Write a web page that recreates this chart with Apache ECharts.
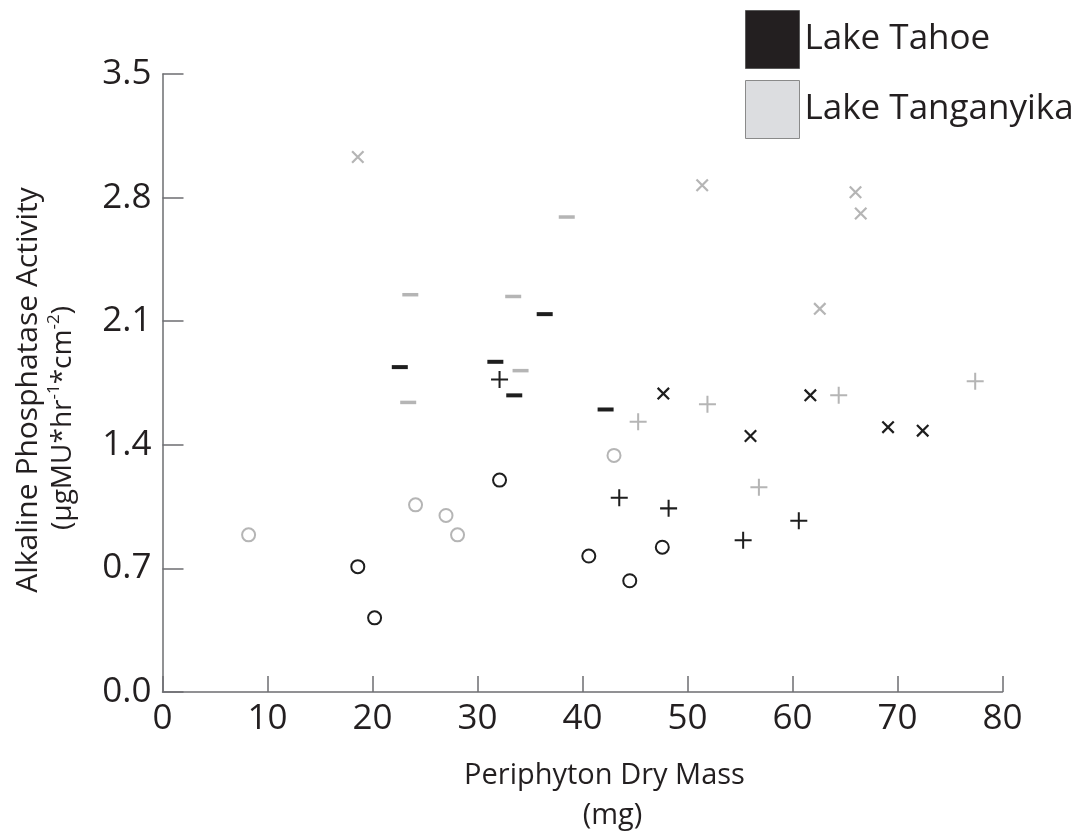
<!DOCTYPE html>
<html>
<head>
<meta charset="utf-8">
<title>Alkaline Phosphatase Activity vs Periphyton Dry Mass</title>
<script src="https://cdn.jsdelivr.net/npm/echarts@6/dist/echarts.min.js"></script>
<style>
  html, body { margin: 0; padding: 0; background: #ffffff; }
  #chart { width: 1080px; height: 831px; }
</style>
</head>
<body>
<div id="chart"></div>
<script>
// Axis ranges and ticks
const xMin = 0, xMax = 80, xStep = 10;
const yMin = 0, yMax = 3.5, yStep = 0.7;

// Lake Tahoe samples: [dry mass (mg), activity]
const tahoeCircle = [[18.6, 0.71], [20.2, 0.42], [32.1, 1.20], [40.6, 0.77], [44.5, 0.63], [47.6, 0.82]];
const tahoeDash   = [[22.6, 1.84], [31.7, 1.87], [33.5, 1.68], [36.4, 2.14], [42.2, 1.60]];
const tahoePlus   = [[32.1, 1.77], [43.5, 1.10], [48.2, 1.04], [55.3, 0.86], [60.6, 0.97]];
const tahoeCross  = [[47.7, 1.69], [56.0, 1.45], [61.7, 1.68], [69.1, 1.50], [72.4, 1.48]];

// Lake Tanganyika samples: [dry mass (mg), activity]
const tangCircle = [[8.2, 0.89], [24.1, 1.06], [27.0, 1.00], [28.1, 0.89], [43.0, 1.34]];
const tangDash   = [[23.4, 1.64], [23.6, 2.25], [33.4, 2.24], [34.1, 1.82], [38.5, 2.69]];
const tangPlus   = [[45.3, 1.53], [51.9, 1.63], [56.8, 1.16], [64.4, 1.68], [77.4, 1.76]];
const tangCross  = [[18.6, 3.03], [51.4, 2.87], [62.6, 2.17], [66.0, 2.83], [66.5, 2.71]];

const lakeNames = ['Lake Tahoe', 'Lake Tanganyika'];

const FONT = '"Open Sans", "Noto Sans", sans-serif';
const TEXT = '#231f20';
const AXIS = '#6d6e71';
const DARK = '#1e1e1e';
const LIGHT = '#b5b5b5';

// Filled outlines for the "+" and "x" markers
const PLUS_PATH = 'path://M0,7.05H16V8.95H0Z M7.05,0H8.95V16H7.05Z';
const CROSS_PATH = 'path://M0,1.45L1.45,0L12,10.55L10.55,12Z M10.55,0L12,1.45L1.45,12L0,10.55Z';

function circleSeries(name, data, color) {
  return {
    type: 'scatter', name, data,
    symbol: 'circle', symbolSize: 13,
    itemStyle: { color: 'rgba(255,255,255,0)', borderColor: color, borderWidth: 2, opacity: 1 },
    emphasis: { disabled: true }
  };
}
function dashSeries(name, data, color, h) {
  return {
    type: 'scatter', name, data,
    symbol: 'rect', symbolSize: [16, h],
    itemStyle: { color, opacity: 1 },
    emphasis: { disabled: true }
  };
}
function pathSeries(name, data, color, symbol, size) {
  return {
    type: 'scatter', name, data,
    symbol, symbolSize: size,
    itemStyle: { color, opacity: 1 },
    emphasis: { disabled: true }
  };
}

const chart = echarts.init(document.getElementById('chart'), null, { renderer: 'canvas' });

chart.setOption({
  animation: false,
  backgroundColor: '#ffffff',
  textStyle: { fontFamily: FONT, color: TEXT },
  grid: {
    left: 162.5, right: 77.5, top: 74, bottom: 139,
    containLabel: false,
    outerBoundsMode: 'none'
  },
  legend: {
    orient: 'vertical',
    left: 745, top: 10,
    padding: 0,
    itemWidth: 54, itemHeight: 58, itemGap: 11,
    selectedMode: false,
    textStyle: { fontFamily: FONT, fontSize: 35, color: TEXT },
    data: [
      { name: lakeNames[0], icon: 'rect', itemStyle: { color: '#231f20', borderColor: '#5a5a5a', borderWidth: 1 } },
      { name: lakeNames[1], icon: 'rect', itemStyle: { color: '#dcdde0', borderColor: '#8a8a8a', borderWidth: 1 } }
    ]
  },
  xAxis: {
    type: 'value',
    min: xMin, max: xMax, interval: xStep,
    name: 'Periphyton Dry Mass\n{pad|\u00a0}(mg)',
    nameLocation: 'middle',
    nameGap: 64,
    nameTextStyle: {
      fontFamily: FONT, fontSize: 29, color: TEXT, lineHeight: 40,
      padding: [0, 0, 0, 44],
      rich: { pad: { width: 16, fontSize: 29, lineHeight: 40 } }
    },
    axisLine: { lineStyle: { color: AXIS, width: 1.5 } },
    axisTick: { inside: true, length: 16, lineStyle: { color: AXIS, width: 1.5 } },
    axisLabel: { fontFamily: FONT, fontSize: 35, color: TEXT, margin: 10 },
    splitLine: { show: false }
  },
  yAxis: {
    type: 'value',
    min: yMin, max: yMax, interval: yStep,
    name: 'Alkaline Phosphatase Activity{g1|\u00a0}\n{l2|(µgMU*hr}{sup|-1}{l2|*cm}{sup|-2}{l2|)}{g2|\u00a0}',
    nameLocation: 'middle',
    nameRotate: 90,
    nameGap: 82,
    nameTextStyle: {
      fontFamily: FONT, fontSize: 30, color: TEXT, lineHeight: 35,
      rich: {
        l2: { fontFamily: FONT, fontSize: 28, color: TEXT, lineHeight: 35 },
        sup: { fontFamily: FONT, fontSize: 17, color: TEXT, verticalAlign: 'top', lineHeight: 35 },
        g1: { width: 14, fontSize: 30, lineHeight: 35 },
        g2: { width: 70, fontSize: 28, lineHeight: 35 }
      }
    },
    axisLine: { lineStyle: { color: AXIS, width: 1.5 } },
    axisTick: { inside: true, length: 21, lineStyle: { color: AXIS, width: 1.5 } },
    axisLabel: {
      fontFamily: FONT, fontSize: 35, color: TEXT, margin: 11,
      formatter: v => v.toFixed(1)
    },
    splitLine: { show: false }
  },
  series: [
    circleSeries(lakeNames[1], tangCircle, LIGHT),
    dashSeries(lakeNames[1], tangDash, LIGHT, 3.5),
    pathSeries(lakeNames[1], tangPlus, LIGHT, PLUS_PATH, 17),
    pathSeries(lakeNames[1], tangCross, LIGHT, CROSS_PATH, 13),
    circleSeries(lakeNames[0], tahoeCircle, DARK),
    dashSeries(lakeNames[0], tahoeDash, DARK, 4),
    pathSeries(lakeNames[0], tahoePlus, DARK, PLUS_PATH, 17),
    pathSeries(lakeNames[0], tahoeCross, DARK, CROSS_PATH, 13)
  ]
});
</script>
</body>
</html>
